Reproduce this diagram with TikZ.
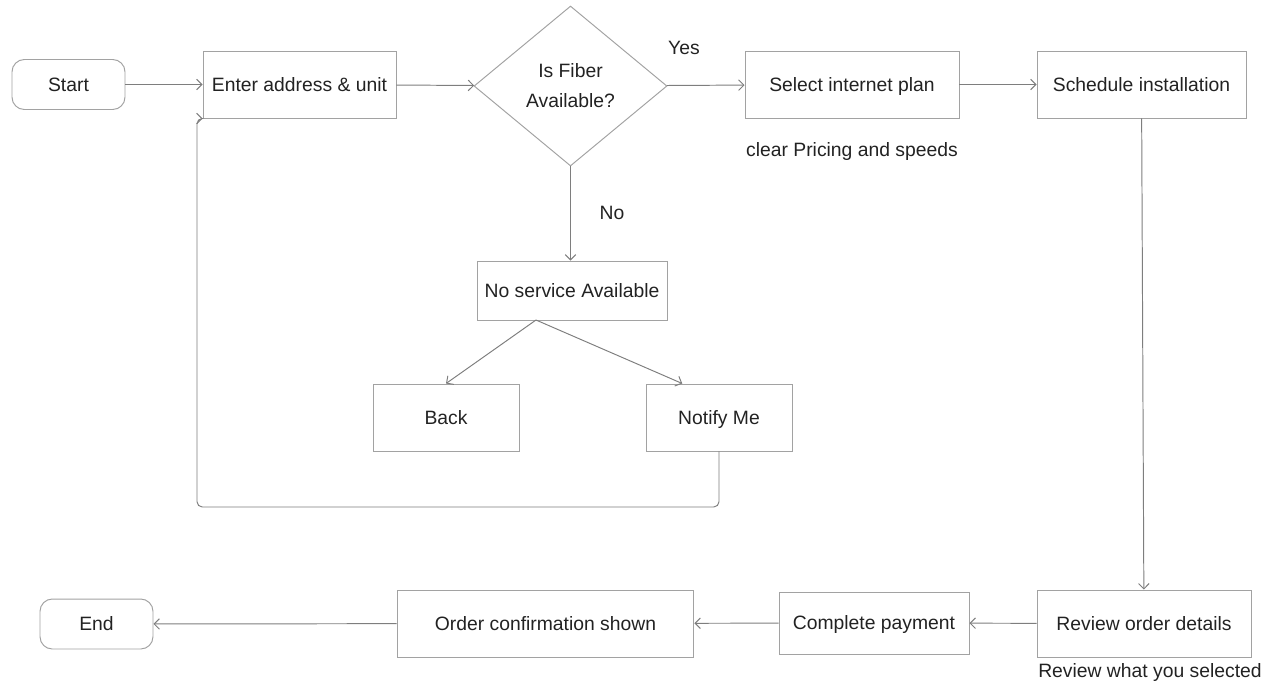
\documentclass[tikz,border=0pt]{standalone}
\usepackage{fontspec}
\setmainfont{Liberation Sans}
\usetikzlibrary{shapes.geometric,arrows.meta,calc}

\definecolor{linegray}{HTML}{A2A2A2}
\definecolor{arrowgray}{HTML}{7E7E7E}
\definecolor{ink}{HTML}{222222}

\tikzset{
  base/.style={draw=linegray, line width=0.55pt, inner sep=2pt, text=ink,
    font=\fontsize{11}{13}\selectfont},
  box/.style={base, minimum height=1.34cm, text height=8pt, text depth=0.6pt},
  term/.style={box, rounded corners=7pt, minimum width=2.26cm, minimum height=1.0cm},
  decision/.style={base, diamond, aspect=1.2, align=center,
    minimum width=3.86cm, minimum height=3.2cm},
  note/.style={text=ink, font=\fontsize{11}{13}\selectfont, inner sep=1pt},
  arr/.style={draw=arrowgray, line width=0.55pt, -{Straight Barb[length=3pt,width=6pt]}}
}

\begin{document}
\begin{tikzpicture}[x=0.02cm, y=-0.02cm]
    \useasboundingbox (0,0) rectangle (1275,691);
    % Fila superior
    \node[term] (start) at (68.5,84.5) {Start};
    \node[box, minimum width=3.86cm] (addr) at (299.5,84.5) {Enter address \& unit};
    \node[decision] (fiber) at (570.5,86) {Is Fiber\\[4pt]Available?};
    \node[box, minimum width=4.28cm] (plan) at (852,84.5) {Select internet plan};
    \node[box, minimum width=4.18cm] (sched) at (1141.5,84.5) {Schedule installation};
    \node[note] (yes) at (684,48) {Yes};
    \node[note] (plannote) at (852,151) {clear Pricing and speeds};
    % Rama sin servicio
    \node[note] (no) at (612,213) {No};
    \node[box, minimum width=3.8cm, minimum height=1.18cm] (nosvc) at (572,290.5) {No service Available};
    \node[box, minimum width=2.92cm] (back) at (446,417.5) {Back};
    \node[box, minimum width=2.92cm] (notify) at (719,417.5) {Notify Me};
    % Fila inferior
    \node[box, minimum width=4.28cm] (review) at (1144,623.5) {Review order details};
    \node[note] (reviewnote) at (1150,672) {Review what you selected};
    \node[box, minimum width=3.8cm, minimum height=1.24cm] (pay) at (874,623) {Complete payment};
    \node[box, minimum width=5.94cm] (confirm) at (545.5,623.5) {Order confirmation shown};
    \node[term] (finish) at (96.5,624) {End};
    % Conectores
    \draw[arr] (start) -- (addr);
    \draw[arr] (addr) -- (fiber);
    \draw[arr] (fiber) -- (plan);
    \draw[arr] (plan) -- (sched);
    \draw[arr] (fiber.south) -- (fiber.south |- nosvc.north);
    \coordinate (nsplit) at (536,320);
    \draw[arr] (nsplit) -- (back.north);
    \draw[arr] (nsplit) -- ($(notify.north)!0.5!(notify.north west)$);
    \draw[arr] (sched) -- (review);
    \draw[arr] (review) -- (pay);
    \draw[arr] (pay) -- (confirm);
    \draw[arr] (confirm) -- (finish);
    % Vuelta desde Notify Me
    \coordinate (loopbot) at (197,507);
    \draw[arr, rounded corners=3pt] (notify.south) |- (loopbot) |- (addr.south west);
\end{tikzpicture}
\end{document}
